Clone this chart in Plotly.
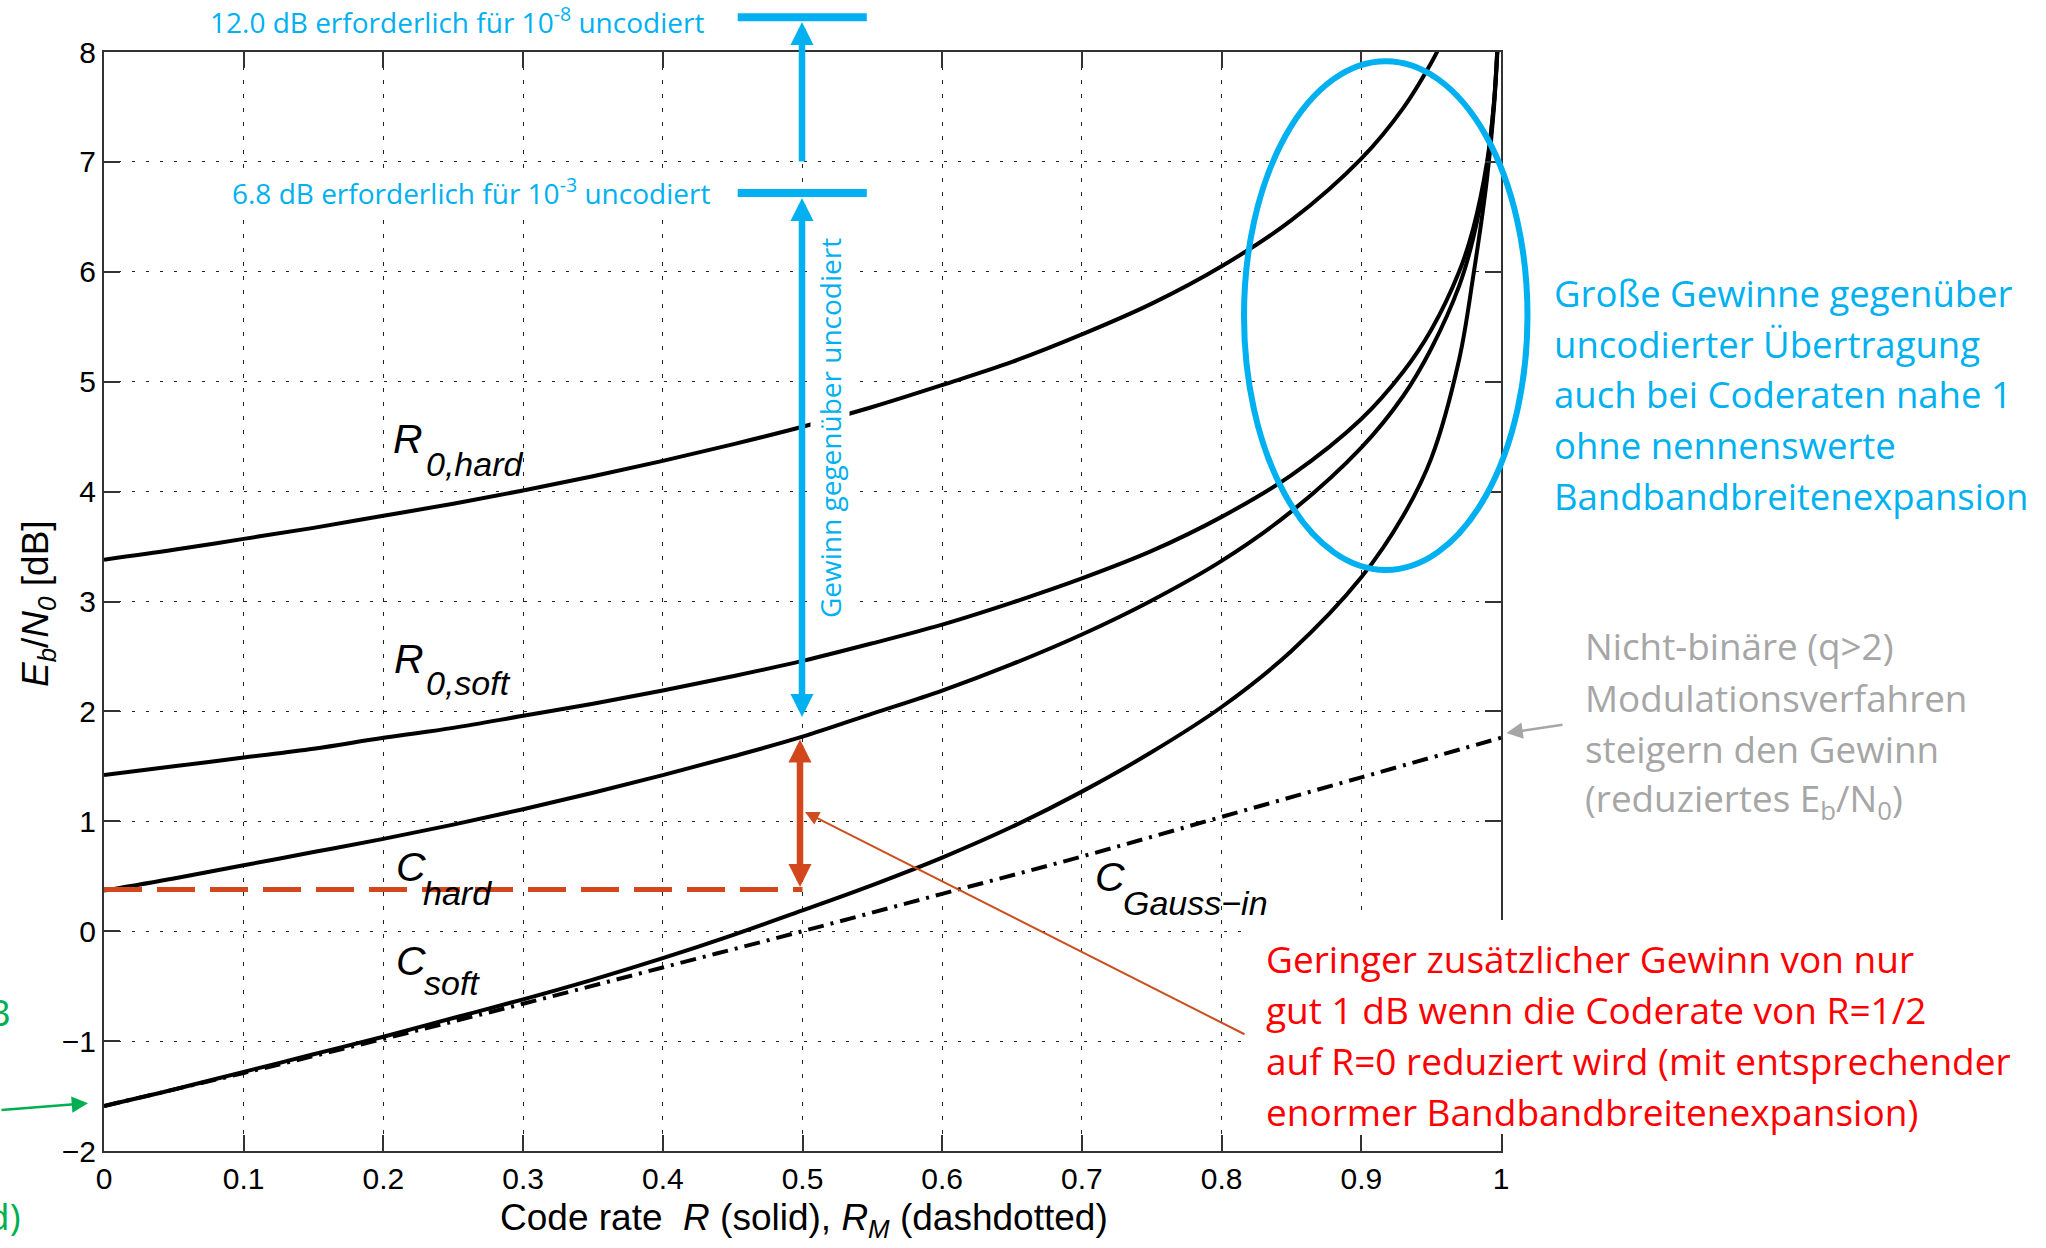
import plotly.graph_objects as go

# ---------------- data ----------------
rate_r0_hard = [0, 0.05, 0.1, 0.15, 0.2, 0.25, 0.3, 0.35, 0.4, 0.45, 0.5, 0.55, 0.6,
                0.65, 0.7, 0.75, 0.8, 0.85, 0.9, 0.93, 0.95, 0.96]
ebn0_r0_hard = [3.38, 3.47, 3.57, 3.67, 3.78, 3.89, 4.01, 4.14, 4.28, 4.43, 4.59, 4.77, 4.97,
                5.18, 5.43, 5.71, 6.05, 6.47, 7.03, 7.49, 7.90, 8.15]

rate_curves = [0, 0.05, 0.1, 0.15, 0.2, 0.25, 0.3, 0.35, 0.4, 0.45, 0.5, 0.55, 0.6, 0.65,
               0.7, 0.75, 0.8, 0.85, 0.9, 0.93, 0.95, 0.97, 0.98, 0.99, 0.995, 0.998]
ebn0_r0_soft = [1.42, 1.50, 1.58, 1.66, 1.76, 1.85, 1.96, 2.07, 2.19, 2.32, 2.46, 2.62, 2.79, 2.99,
                3.21, 3.46, 3.77, 4.15, 4.66, 5.09, 5.47, 6.00, 6.39, 7.00, 7.55, 8.19]
ebn0_c_hard = [0.37, 0.48, 0.60, 0.72, 0.84, 0.97, 1.11, 1.26, 1.42, 1.59, 1.77, 1.98, 2.19, 2.43,
               2.70, 3.01, 3.37, 3.82, 4.40, 4.87, 5.30, 5.87, 6.30, 6.96, 7.54, 8.20]
ebn0_c_soft = [-1.59, -1.44, -1.28, -1.12, -0.96, -0.79, -0.62, -0.44, -0.245, -0.035, 0.19, 0.42, 0.67, 0.95,
               1.27, 1.63, 2.04, 2.55, 3.22, 3.78, 4.30, 5.20, 5.95, 6.85, 7.50, 8.15]

rate_gauss = [0, 0.1, 0.2, 0.3, 0.4, 0.5, 0.6, 0.7, 0.8, 0.9, 1.0]
ebn0_gauss = [-1.59, -1.29, -0.98, -0.66, -0.33, 0.0, 0.34, 0.68, 1.04, 1.40, 1.76]

gain_ref_rate = [0, 0.5]
gain_ref_ebn0 = [0.38, 0.38]

x_tickvals = [0, 0.1, 0.2, 0.3, 0.4, 0.5, 0.6, 0.7, 0.8, 0.9, 1]
x_ticktext = ["0", "0.1", "0.2", "0.3", "0.4", "0.5", "0.6", "0.7", "0.8", "0.9", "1"]
y_tickvals = [-2, -1, 0, 1, 2, 3, 4, 5, 6, 7, 8]
y_ticktext = ["\u22122", "\u22121", "0", "1", "2", "3", "4", "5", "6", "7", "8"]

# ---------------- layout helpers ----------------
W, H = 2046, 1248
ML, MR, MT, MB = 104, 545, 52, 97
PW = W - ML - MR
PH = H - MT - MB


def px(x):
    return (x - ML) / PW


def py(y):
    return (H - MB - y) / PH


BLUE = "#00B0F0"
ORANGE = "#D4461C"
THIN = "#CC4E1E"
RED = "#FF0000"
GRAY = "#A6A6A6"
GREEN = "#00B050"
ARIAL = "Liberation Sans, Arial, sans-serif"
CAL = "Open Sans, Noto Sans, sans-serif"

fig = go.Figure()
black_line = dict(color="black", width=4, shape="spline", smoothing=1)
fig.add_trace(go.Scatter(x=rate_r0_hard, y=ebn0_r0_hard, mode="lines", line=black_line))
fig.add_trace(go.Scatter(x=rate_curves, y=ebn0_r0_soft, mode="lines", line=black_line))
fig.add_trace(go.Scatter(x=rate_curves, y=ebn0_c_hard, mode="lines", line=black_line))
fig.add_trace(go.Scatter(x=rate_curves, y=ebn0_c_soft, mode="lines", line=black_line))
fig.add_trace(go.Scatter(x=rate_gauss, y=ebn0_gauss, mode="lines",
                         line=dict(color="black", width=4, dash="16px,7px,3px,7px", shape="spline")))
fig.add_trace(go.Scatter(x=gain_ref_rate, y=gain_ref_ebn0, mode="lines",
                         line=dict(color=ORANGE, width=5, dash="38px,15px")))

ann = []


def txt(text, x, y, size, color, family, xanchor="left", yanchor="middle", angle=0, bg=None):
    d = dict(text=text, x=px(x), y=py(y), xref="paper", yref="paper", showarrow=False,
             font=dict(size=size, color=color, family=family), xanchor=xanchor,
             yanchor=yanchor, textangle=angle, borderpad=0)
    if bg:
        d["bgcolor"] = bg
    ann.append(d)


def arrow(tipx, tipy, tailx, taily, color, width, size, both=False, head=2):
    d = dict(text="", x=px(tipx), y=py(tipy), xref="paper", yref="paper", showarrow=True,
             ax=tailx - tipx, ay=taily - tipy, axref="pixel", ayref="pixel",
             arrowcolor=color, arrowwidth=width, arrowhead=head, arrowsize=size,
             standoff=0, startstandoff=0)
    if both:
        d.update(arrowside="end+start", startarrowhead=head, startarrowsize=size)
    ann.append(d)


# curve labels
txt("<i>R</i>", 392, 439, 41, "black", ARIAL)
txt("<i>0,hard</i>", 425, 464, 34, "black", ARIAL)
txt("<i>R</i>", 393, 659, 41, "black", ARIAL)
txt("<i>0,soft</i>", 425, 683, 34, "black", ARIAL)
txt("<i>C</i>", 395, 867, 41, "black", ARIAL)
txt("<i>hard</i>", 422, 893, 34, "black", ARIAL)
txt("<i>C</i>", 395, 961, 41, "black", ARIAL)
txt("<i>soft</i>", 423, 983, 34, "black", ARIAL)
txt("<i>C</i>", 1094, 877, 41, "black", ARIAL)
txt("<i>Gauss\u2212in</i>", 1122, 903, 34, "black", ARIAL)

# axis titles
txt("Code rate\u00a0 <i>R</i> (solid), <i>R</i><sub><i>M</i></sub> (dashdotted)", 804, 1196,
    37, "black", ARIAL, xanchor="center", yanchor="top")
txt("<i>E</i><sub><i>b</i></sub>/<i>N</i><sub><i>0</i></sub> [dB]", 38, 604, 37, "black", ARIAL,
    xanchor="center", yanchor="middle", angle=-90)

# blue annotations
txt("12.0 dB erforderlich für 10<sup>-8</sup> uncodiert", 705, 20.5, 28, BLUE, CAL, xanchor="right")
txt("6.8 dB erforderlich für 10<sup>-3</sup> uncodiert", 711, 191, 28, BLUE, CAL, xanchor="right",
    bg="white")
txt("Gewinn gegenüber uncodiert", 830, 428, 28, BLUE, CAL, xanchor="center", angle=-90, bg="white")
for i, line in enumerate(["Große Gewinne gegenüber", "uncodierter Übertragung",
                          "auch bei Coderaten nahe 1", "ohne nennenswerte",
                          "Bandbandbreitenexpansion"]):
    txt(line, 1553, [293, 344, 394, 445, 496][i], 36.5, BLUE, CAL)

# gray annotation
for i, line in enumerate(["Nicht-binäre (q>2)", "Modulationsverfahren", "steigern den Gewinn",
                          "(reduziertes E<sub>b</sub>/N<sub>0</sub>)"]):
    txt(line, 1584, [646, 698, 749, 800][i], 36.8, GRAY, CAL)

# red annotation
for i, line in enumerate(["Geringer zusätzlicher Gewinn von nur",
                          "gut 1 dB wenn die Coderate von R=1/2",
                          "auf R=0 reduziert wird (mit entsprechender",
                          "enormer Bandbandbreitenexpansion)"]):
    txt(line, 1265, [958, 1009, 1060, 1111][i], 37, RED, CAL)

# green (cut-off) annotation
txt("dB", 12, 1011, 37, GREEN, CAL, xanchor="right")
txt("d)", 22, 1215, 37, GREEN, CAL, xanchor="right")

# arrows
arrow(802, 22, 802, 163, BLUE, 6.5, 0.71)
arrow(802, 717, 802, 196.5, BLUE, 6.5, 0.71, both=True)
arrow(800, 887, 800, 738, ORANGE, 6.5, 0.71, both=True)
arrow(805, 812, 1246, 1035, THIN, 2, 1.4)
arrow(1506.5, 733, 1564, 724.6, GRAY, 2.5, 1.3)
arrow(88, 1103.3, 0, 1110, GREEN, 2.5, 1.3)

shapes = [
    dict(type="rect", xref="paper", yref="paper", x0=px(1243), x1=px(2046), y0=py(1134), y1=py(920),
         fillcolor="white", line=dict(width=0), layer="above"),
    dict(type="circle", xref="paper", yref="paper", x0=px(1244), x1=px(1527.5), y0=py(570), y1=py(61.3),
         line=dict(color=BLUE, width=6), layer="above"),
    dict(type="line", xref="paper", yref="paper", x0=px(737.7), x1=px(866.8), y0=py(17.3), y1=py(17.3),
         line=dict(color=BLUE, width=8), layer="above"),
    dict(type="line", xref="paper", yref="paper", x0=px(737.7), x1=px(866.8), y0=py(193), y1=py(193),
         line=dict(color=BLUE, width=8), layer="above"),
]

axis_common = dict(showline=True, linecolor="#333333", linewidth=2, mirror="ticks", ticks="inside",
                   ticklen=16, tickwidth=2, tickcolor="#333333", showgrid=True, gridcolor="#222222",
                   gridwidth=1.3, zeroline=False, tickfont=dict(size=30, color="black", family=ARIAL),
                   tickmode="array")

fig.update_layout(
    width=W, height=H,
    margin=dict(l=ML, r=MR, t=MT, b=MB, pad=0),
    plot_bgcolor="white", paper_bgcolor="white",
    showlegend=False, hovermode=False,
    xaxis=dict(range=[0, 1], tickvals=x_tickvals, ticktext=x_ticktext, griddash="4px,10px",
               **axis_common),
    yaxis=dict(range=[-2, 8], tickvals=y_tickvals, ticktext=y_ticktext, griddash="3px,11px",
               **axis_common),
    annotations=ann,
    shapes=shapes,
)

fig.write_html("out.html")
